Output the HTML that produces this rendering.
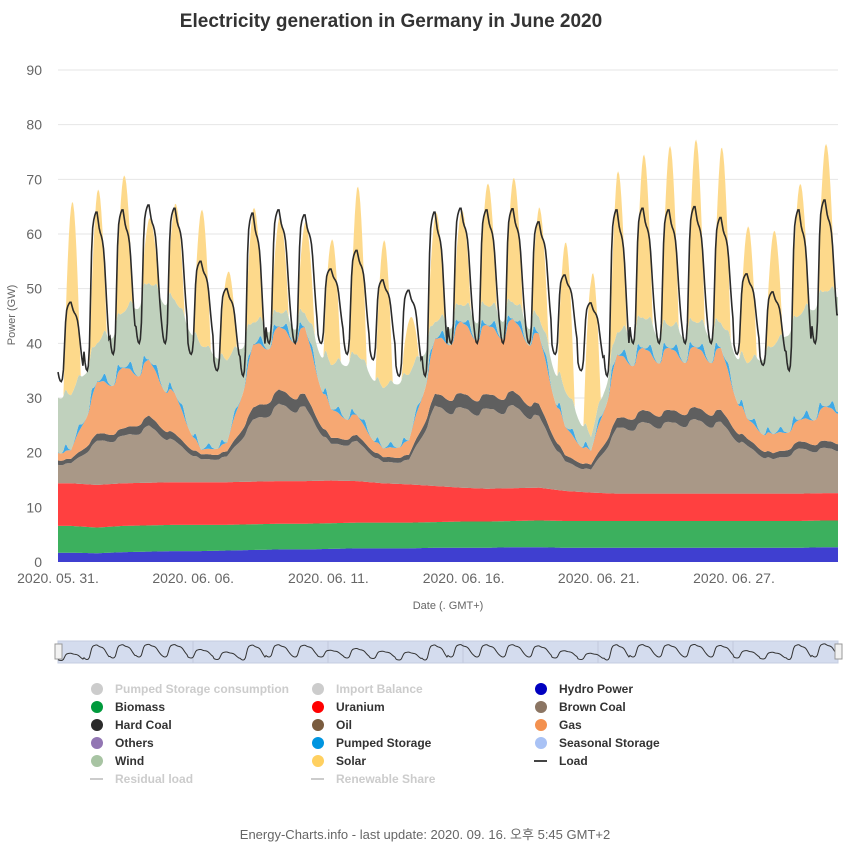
<!DOCTYPE html>
<html><head><meta charset="utf-8">
<style>
body{margin:0;background:#fff;font-family:"Liberation Sans","Noto Sans CJK KR",sans-serif;}
#wrap{position:relative;width:850px;height:849px;overflow:hidden;}
svg text{font-family:"Liberation Sans","Noto Sans CJK KR",sans-serif;}
</style></head>
<body>
<div id="wrap">
<svg id="chart" width="850" height="849">
<text x="391" y="27" text-anchor="middle" font-size="19" font-weight="bold" fill="#333">Electricity generation in Germany in June 2020</text>
<text transform="translate(15,315) rotate(-90)" text-anchor="middle" font-size="11" fill="#666">Power (GW)</text>
<text x="448" y="609" text-anchor="middle" font-size="11" fill="#666">Date (. GMT+)</text>
<g id="grid"></g><g id="areas"></g><g id="loadg"></g><g id="xaxis"></g><g id="yaxis"></g><g id="nav"></g><g id="legend"></g>
<text x="425" y="839" text-anchor="middle" font-size="13" fill="#666">Energy-Charts.info - last update: 2020. 09. 16. 오후 5:45 GMT+2</text>
</svg>
</div>
<script>
const days=["05.31","06.01","06.02","06.03","06.04","06.05","06.06","06.07","06.08","06.09","06.10","06.11","06.12","06.13","06.14","06.15","06.16","06.17","06.18","06.19","06.20","06.21","06.22","06.23","06.24","06.25","06.26","06.27","06.28","06.29"];
const hydro=[1.7,1.6,1.8,1.9,2,2,2.1,2.2,2.3,2.3,2.4,2.5,2.5,2.5,2.6,2.6,2.6,2.7,2.7,2.6,2.6,2.6,2.6,2.6,2.6,2.6,2.6,2.6,2.6,2.7];
const biomass=[4.9,4.7,4.8,4.8,4.8,4.8,4.7,4.7,4.7,4.7,4.7,4.7,4.7,4.7,4.7,4.8,4.8,4.8,4.9,4.9,4.9,4.9,4.9,4.9,4.9,4.9,4.9,4.9,4.9,4.9];
const uranium=[7.8,7.8,7.8,7.8,7.8,7.8,7.8,7.8,7.8,7.8,7.8,7.6,7.2,7,6.6,6.2,6,6,6,5.5,5.2,5,5,5,5,5,5,5,5,5];
const brownCoal=[3.5,7.7,8.3,10,7.2,4,4.5,10.8,13.5,13,6.4,7,3.7,4.3,14,14,14,14.5,12.5,5.2,4,11.5,12.5,12.5,13,12.5,8.4,6,7.9,7.9];
const hardCoal=[0.8,1.3,1.3,1.8,1.3,0.9,0.9,2.2,2.6,2.3,1.1,1.1,0.9,0.9,2.2,2.6,2.6,2.6,2.2,1.1,0.9,1.8,2.2,2.2,2.2,2.2,1.3,1.1,1.3,1.3];
const gas=[1.5,9,10.6,9.7,7,0.8,1.5,11,11,11.6,5,3.5,1.5,2.5,9.6,12.5,12,12.5,12.2,5,2.4,11,10.8,10.8,10.5,10.8,3.5,3.3,3.7,6];
const pumped=[1.2,1.5,1.5,1.5,1.3,1,1,1.5,1.5,1.5,1.2,1.2,1,1,1.5,1.5,1.5,1.5,1.5,1.2,1,1.5,1.5,1.5,1.5,1.5,1.2,1,1.5,1.5];
const wind=[10,7,10,14,17,19,15,4,2.5,2.5,8,11,11,12,3,3,3.5,3,3,6.5,2.5,4,5.5,4,4.5,4.5,10,16,19,21];
const solarPeak=[35,28,25,12,18,25,16,21,17.5,17,23,31,27,10,20,17.5,22.5,23,20.5,27.5,29,29.5,30,33,33.5,32.5,25,21,24,27];
const loadPeak=[47.5,64,64.4,65.3,64.7,55,50,63.8,64.4,63.5,53.6,57,51.6,49.7,64,64.7,64.4,64.6,62.2,52.5,47.4,64.4,64.7,64.4,65,63,52.7,49.4,64.4,66.2];
const loadMin=[33,35,38,40,40,38,35,34,40,40,40,38,37,34,34,40,40,40,40,38,35,34,40,40,40,40,38,36,35,40];
const loadProfile=[0.12,0.05,0.01,0,0.03,0.15,0.45,0.75,0.9,0.95,0.98,1,1,0.95,0.9,0.87,0.85,0.82,0.77,0.68,0.55,0.42,0.3,0.2];
const pumpedProfile=[0.1,0.05,0,0,0.1,0.3,0.8,1,0.8,0.4,0.2,0.1,0.05,0.05,0.1,0.2,0.3,0.5,0.8,1,0.9,0.6,0.3,0.2];
const yTicks=[0,10,20,30,40,50,60,70,80,90];
const xTickDays=[0,5.2,10.4,15.6,20.8,26.0];
const xTickLabels=["2020. 05. 31.","2020. 06. 06.","2020. 06. 11.","2020. 06. 16.","2020. 06. 21.","2020. 06. 27."];

const NS="http://www.w3.org/2000/svg";
const X0=58,X1=838,Y0=562,Y90=70,ND=days.length;
const xs=d=>X0+d/ND*(X1-X0);
const ys=v=>Y0-v/90*(Y0-Y90);
function mk(tag,attrs,parent){const e=document.createElementNS(NS,tag);for(const k in attrs)e.setAttribute(k,attrs[k]);parent.appendChild(e);return e;}
const G=id=>document.getElementById(id);

yTicks.forEach(v=>{
  if(v>0){const l=mk('line',{x1:X0,x2:X1,y1:ys(v),y2:ys(v),stroke:'#e6e6e6','stroke-width':1},G('grid'));
  
  }
  const t=mk('text',{x:42,y:ys(v)+5,'text-anchor':'end','font-size':14,fill:'#666'},G('yaxis'));
  t.textContent=v;
  
  
});
xTickDays.forEach((d,i)=>{
  const t=mk('text',{x:xs(d),y:583,'text-anchor':'middle','font-size':14,fill:'#666'},G('xaxis'));
  t.textContent=xTickLabels[i];
  
  
});

const N=ND*24;
function lerpDay(arr,t){const d=t/24-0.5;const i=Math.max(0,Math.min(ND-1,Math.floor(d)));const j=Math.min(ND-1,i+1);const f=Math.max(0,Math.min(1,d-i));return arr[i]*(1-f)+arr[j]*f;}
const series=[
 {name:'hydro-power',color:'#3f3fd0',f:t=>lerpDay(hydro,t)},
 {name:'biomass',color:'#3cb05e',f:t=>lerpDay(biomass,t)},
 {name:'uranium',color:'#ff4040',f:t=>lerpDay(uranium,t)},
 {name:'brown-coal',color:'#a99887',f:t=>lerpDay(brownCoal,t)*(0.95+0.1*loadProfile[t%24])},
 {name:'hard-coal',color:'#5f5f5f',f:t=>lerpDay(hardCoal,t)},
 {name:'gas',color:'#f6a873',f:t=>lerpDay(gas,t)*(0.9+0.15*loadProfile[t%24])},
 {name:'pumped-storage',color:'#3fa9e6',f:t=>pumped[Math.floor(t/24)%ND]*pumpedProfile[t%24]},
 {name:'wind',color:'#c0d1bd',f:t=>lerpDay(wind,t)},
 {name:'solar',color:'#fdd98b',f:t=>{const h=t%24;const s=Math.sin(Math.PI*(h-5)/16);return s>0?solarPeak[Math.floor(t/24)]*Math.pow(s,1.05):0;}}
];
const base=new Array(N+1).fill(0);
series.forEach(s=>{
  const top=[];for(let t=0;t<=N;t++){const tt=Math.min(t,N-1);top.push(base[t]+s.f(tt));}
  let d='M'+xs(0)+','+ys(top[0]);
  for(let t=1;t<=N;t++)d+='L'+xs(t/24).toFixed(2)+','+ys(top[t]).toFixed(2);
  for(let t=N;t>=0;t--)d+='L'+xs(t/24).toFixed(2)+','+ys(base[t]).toFixed(2);
  const p=mk('path',{d:d+'Z',fill:s.color},G('areas'));
  
  
  for(let t=0;t<=N;t++)base[t]=top[t];
});
const load=[];for(let t=0;t<=N;t++){const tt=Math.min(t,N-1);const d=Math.floor(tt/24);load.push(loadMin[d]+(loadPeak[d]-loadMin[d])*loadProfile[tt%24]);}
let ld='';load.forEach((v,t)=>{ld+=(t?'L':'M')+xs(t/24).toFixed(2)+','+ys(v).toFixed(2);});
const lp=mk('path',{d:ld,fill:'none',stroke:'#2b2b2b','stroke-width':1.6},G('loadg'));



const nav=G('nav');
const nb=mk('rect',{x:X0,y:641,width:X1-X0,height:22,fill:'#d4dcee',stroke:'#c5cde0'},nav);


for(let i=1;i<6;i++){const gl=mk('line',{x1:X0+i*135,x2:X0+i*135,y1:641,y2:663,stroke:'#c2c9dc'},nav);

}
let nd='';load.forEach((v,t)=>{nd+=(t?'L':'M')+xs(t/24).toFixed(2)+','+(662-(v-30)/40*20).toFixed(2);});
const nl=mk('path',{d:nd,fill:'none',stroke:'#333','stroke-width':1},nav);


[X0-3,X1-3].forEach((x,i)=>{const h=mk('rect',{x:x,y:644,width:7,height:15,fill:'#f2f2f2',stroke:'#999'},nav);

});

const legendNames=["Pumped Storage consumption","Import Balance","Hydro Power","Biomass","Uranium","Brown Coal","Hard Coal","Oil","Gas","Others","Pumped Storage","Seasonal Storage","Wind","Solar","Load","Residual load","Renewable Share"];
const legendColors=["#ccc","#ccc","#0000c0","#009a3c","#ff0000","#8b7563","#2b2b2b","#7a5c3f","#f39150","#9276b3","#0095e0","#a9c2f5","#a8c4a3","#ffd060","#444","#ccc","#ccc"];
const legendHidden=[1,1,0,0,0,0,0,0,0,0,0,0,0,0,0,1,1];
const legendLine=[0,0,0,0,0,0,0,0,0,0,0,0,0,0,1,1,1];
const colX=[96,317,540],rowY0=689,rowH=18;
legendNames.forEach((n,i)=>{
  const c=i%3,r=Math.floor(i/3);const x=colX[c],y=rowY0+r*rowH;
  const g=mk('g',{},G('legend'));
  
  
  if(legendLine[i])mk('line',{x1:x-6,x2:x+7,y1:y,y2:y,stroke:legendColors[i],'stroke-width':2},g);
  else mk('circle',{cx:x+1,cy:y,r:6,fill:legendColors[i]},g);
  const t=mk('text',{x:x+19,y:y+4,'font-size':12,'font-weight':'bold',fill:legendHidden[i]?'#ccc':'#333'},g);
  t.textContent=n;
});
</script>
</body></html>
